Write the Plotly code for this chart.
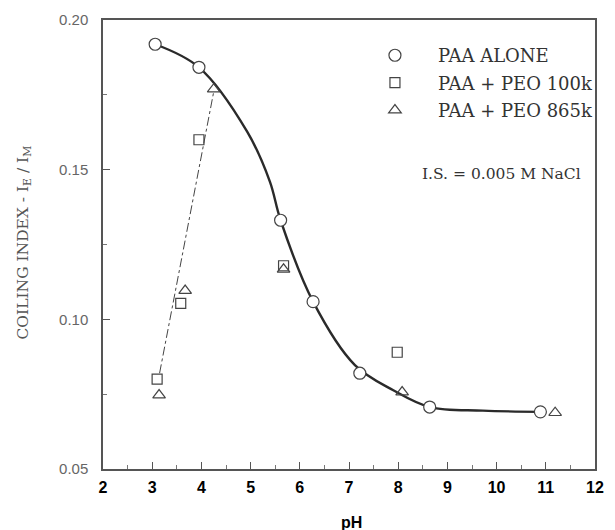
import plotly.graph_objects as go

# PAA alone (circles)
ph_alone = [3.06, 3.95, 5.61, 6.27, 7.22, 8.64, 10.89]
ci_alone = [0.1919, 0.1842, 0.1331, 0.1059, 0.0820, 0.0707, 0.0691]

# PAA + PEO 100k (squares)
ph_100k = [3.10, 3.58, 3.95, 5.67, 7.98]
ci_100k = [0.0800, 0.1053, 0.1600, 0.1179, 0.0890]

# PAA + PEO 865k (triangles)
ph_865k = [3.14, 3.67, 4.25, 5.67, 8.08, 11.19]
ci_865k = [0.0747, 0.1096, 0.1769, 0.1167, 0.0757, 0.0688]

# Smooth fitted curve through PAA-alone data
ph_fit = [3.06, 3.95, 4.93, 5.39, 5.61, 6.27, 7.12, 7.90, 8.64, 9.72, 10.89]
ci_fit = [0.1919, 0.1842, 0.1627, 0.1461, 0.1331, 0.1059, 0.0847, 0.0763, 0.0707, 0.0695, 0.0691]

# Dash-dot line (low-pH rise)
ph_line = [3.15, 4.25]
ci_line = [0.0820, 0.1760]

x_ticks = [2, 3, 4, 5, 6, 7, 8, 9, 10, 11, 12]
y_ticks = [0.05, 0.10, 0.15, 0.20]

ink = "#2a2a2a"
serif = "DejaVu Serif"

fig = go.Figure()
fig.add_trace(go.Scatter(x=ph_fit, y=ci_fit, mode="lines", line=dict(color=ink, width=2.4, shape="spline", smoothing=1.0),
                         showlegend=False, hoverinfo="skip"))
fig.add_trace(go.Scatter(x=ph_line, y=ci_line, mode="lines", line=dict(color="#444", width=1, dash="dashdot"),
                         showlegend=False, hoverinfo="skip"))
fig.add_trace(go.Scatter(x=ph_alone, y=ci_alone, mode="markers", name="PAA ALONE", legendgroup="a",
                         marker=dict(symbol="circle", size=12, color="white", line=dict(color="#444", width=1.2))))
fig.add_trace(go.Scatter(x=ph_100k, y=ci_100k, mode="markers", name="PAA + PEO 100k", legendgroup="b",
                         marker=dict(symbol="square-open", size=10, color="#444", line=dict(width=1.2))))
fig.add_trace(go.Scatter(x=ph_865k, y=ci_865k, mode="markers", name="PAA + PEO 865k", legendgroup="c",
                         marker=dict(symbol="triangle-up-open", size=11, color="#444", line=dict(width=1.2))))

fig.update_layout(
    width=615, height=530,
    margin=dict(l=103, r=11, t=17, b=61),
    paper_bgcolor="white", plot_bgcolor="white",
    showlegend=True,
    legend=dict(x=0.506, y=0.962, xanchor="left", yanchor="top", bgcolor="rgba(0,0,0,0)",
                font=dict(family=serif, size=18, color="#333"), itemwidth=76, tracegroupgap=1),
    xaxis=dict(range=[2, 12], tickvals=x_ticks, ticktext=[str(v) for v in x_ticks],
               ticks="inside", ticklen=7, tickcolor="#555", tickwidth=1.2,
               minor=dict(dtick=0.5, ticks="inside", ticklen=4, tickcolor="#777", tickwidth=1),
               showline=True, mirror=True, linecolor="#555", linewidth=1.5,
               showgrid=False, zeroline=False,
               tickfont=dict(family="Liberation Sans", size=16, color="black", weight="bold"),
               ticklabelstandoff=3),
    yaxis=dict(range=[0.05, 0.20], tickvals=y_ticks, ticktext=["0.05", "0.10", "0.15", "0.20"],
               ticks="inside", ticklen=7, tickcolor="#555", tickwidth=1.2,
               minor=dict(dtick=0.025, ticks="inside", ticklen=4, tickcolor="#777", tickwidth=1),
               showline=True, mirror=True, linecolor="#555", linewidth=1.5,
               showgrid=False, zeroline=False,
               tickfont=dict(family="Liberation Sans", size=15, color="#666"),
               ticklabelstandoff=10),
    annotations=[
        dict(text="COILING INDEX - I<sub>E</sub> / I<sub>M</sub>", xref="paper", yref="paper",
             x=-0.16, y=0.505, xanchor="center", yanchor="middle", textangle=-90, showarrow=False,
             font=dict(family=serif, size=15.5, color="#555")),
        dict(text="<b>pH</b>", xref="paper", yref="paper", x=0.505, y=-0.12, yanchor="middle",
             showarrow=False, font=dict(family="Liberation Sans", size=16, color="black")),
        dict(text="I.S. = 0.005 M NaCl", xref="paper", yref="paper", x=0.809, y=0.657,
             xanchor="center", yanchor="middle", showarrow=False,
             font=dict(family=serif, size=15.5, color="#333")),
    ],
)

fig.write_html("out.html", post_script="document.body.style.margin='0';",
               config={"displayModeBar": False})
